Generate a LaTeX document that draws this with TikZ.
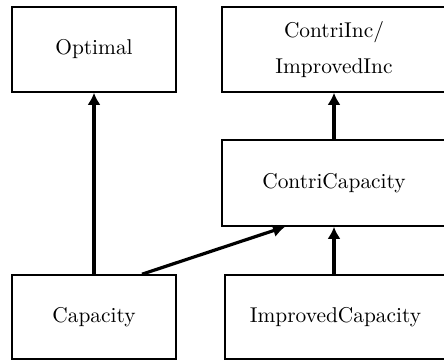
\documentclass[tikz,border=0pt]{standalone}
\usetikzlibrary{arrows.meta}
\begin{document}
\begin{tikzpicture}[x=0.5pt,y=0.5pt,
  box/.style={draw,line width=0.8pt,inner sep=0pt,align=center,
    font=\fontsize{10.7}{18}\selectfont},
  arr/.style={line width=1.6pt,-{Latex[length=6pt,width=6.5pt]}}]
\useasboundingbox (0,0) rectangle (444,360);
\node[box,minimum width=82pt,minimum height=42.5pt] (opt) at (94,310.5) {Optimal};
\node[box,minimum width=112pt,minimum height=42.5pt] (inc) at (334,310.5) {ContriInc/\\ImprovedInc};
\node[box,minimum width=112pt,minimum height=43pt] (ccap) at (334,177) {ContriCapacity};
\node[box,minimum width=82pt,minimum height=42pt] (cap) at (94,43) {Capacity};
\node[box,minimum width=110.5pt,minimum height=42pt] (icap) at (335.5,43) {ImprovedCapacity};
\draw[arr] (cap.north) to (opt.south);
\draw[arr] ([xshift=24pt]cap.north) to ([xshift=-24.5pt]ccap.south);
\draw[arr] (icap.north -| ccap.south) to (ccap.south);
\draw[arr] (ccap.north) to (inc.south);
\end{tikzpicture}
\end{document}
